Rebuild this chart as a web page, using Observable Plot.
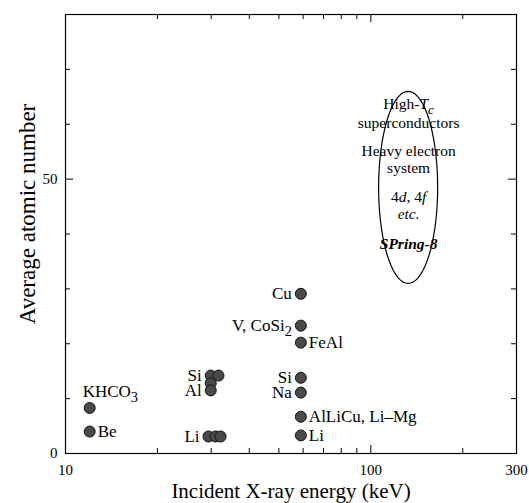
<!DOCTYPE html>
<html><head><meta charset="utf-8">
<script src="https://cdn.jsdelivr.net/npm/d3@7"></script>
<script src="https://cdn.jsdelivr.net/npm/@observablehq/plot@0.6"></script>
<style>body{margin:0;background:#fff}</style>
</head><body><div id="chart"></div>
<script>
// Measured samples: incident X-ray energy (keV) and average atomic number
const sampleEnergy = [12, 12, 29.9, 31.7, 29.9, 29.9, 29.4, 31.0, 32.2, 59, 59, 59, 59, 59, 59, 59];
const sampleZ      = [8.3, 4, 14.2, 14.2, 12.8, 11.5, 3.1, 3.1, 3.1, 29.1, 23.3, 20.2, 13.8, 11.1, 6.7, 3.3];

// Point labels
const labelText   = ["KHCO3", "Be", "Si", "Al", "Li", "Cu", "V, CoSi2", "FeAl", "Si", "Na", "AlLiCu, Li–Mg", "Li"];
const labelEnergy = [12, 12, 29.9, 29.9, 29.4, 59, 59, 59, 59, 59, 59, 59];
const labelZ      = [8.3, 4, 14.2, 11.5, 3.1, 29.1, 23.3, 20.2, 13.8, 11.1, 6.7, 3.3];
const labelSide   = ["above", "right", "left", "left", "left", "left", "left", "right", "left", "left", "right", "right"];

// SPring-8 target region (ellipse) and its text
const regionCenterEnergy = 132.5;
const regionHalfWidthDecades = 0.0967;
const regionZMin = 31, regionZMax = 66;
const regionLines = ["High-Tc", "superconductors", "Heavy electron", "system", "4d, 4f", "etc.", "SPring-8"];
const regionLineZ = [63.6, 60.2, 55.1, 52.0, 46.7, 43.6, 38.2];
const regionTextEnergy = 133;

// Axes ticks
const xLabelTicks = [10, 100, 300];
const xMinorTicks = [20, 30, 40, 50, 60, 70, 80, 90, 200];
const xMajorTicks = [100];
const yLabelTicks = [0, 50];
const yMinorTicks = [10, 20, 30, 40, 60, 70];
const yMajorTicks = [50];

const W = 529, H = 503;
const mL = 65, mR = 13, mT = 14, mB = 50;
const fw = W - mL - mR, fh = H - mT - mB;

const samples = sampleEnergy.map((e, i) => ({energy: e, z: sampleZ[i]}));
const labels = labelText.map((t, i) => ({text: t, energy: labelEnergy[i], z: labelZ[i], side: labelSide[i]}));
const regionText = regionLines.map((t, i) => ({text: t, z: regionLineZ[i]}));
const cz = (regionZMin + regionZMax) / 2, hz = (regionZMax - regionZMin) / 2;
const ellipse = d3.range(0, 73).map(i => {
  const t = i / 72 * 2 * Math.PI;
  return {energy: regionCenterEnergy * Math.pow(10, regionHalfWidthDecades * Math.cos(t)), z: cz + hz * Math.sin(t)};
});

const font = "'Liberation Serif', 'Times New Roman', serif";
const lab = side => labels.filter(d => d.side === side);

const chart = Plot.plot({
  width: W, height: H,
  marginLeft: mL, marginRight: mR, marginTop: mT, marginBottom: mB,
  style: {fontFamily: font, background: "white", color: "black"},
  x: {type: "log", domain: [10, 300]},
  y: {domain: [0, 80]},
  marks: [
    Plot.frame({stroke: "black", strokeWidth: 1.2}),
    // inward ticks
    Plot.tickX(xMinorTicks, {x: d => d, insetTop: fh - 5, stroke: "black"}),
    Plot.tickX(xMinorTicks, {x: d => d, insetBottom: fh - 5, stroke: "black"}),
    Plot.tickX(xMajorTicks, {x: d => d, insetTop: fh - 8, stroke: "black"}),
    Plot.tickX(xMajorTicks, {x: d => d, insetBottom: fh - 8, stroke: "black"}),
    Plot.tickY(yMinorTicks, {y: d => d, insetRight: fw - 5, stroke: "black"}),
    Plot.tickY(yMinorTicks, {y: d => d, insetLeft: fw - 5, stroke: "black"}),
    Plot.tickY(yMajorTicks, {y: d => d, insetRight: fw - 8, stroke: "black"}),
    Plot.tickY(yMajorTicks, {y: d => d, insetLeft: fw - 8, stroke: "black"}),
    Plot.axisX(xLabelTicks, {tickSize: 0, tickPadding: 11, fontSize: 15, label: null, tickFormat: d => String(d)}),
    Plot.axisY(yLabelTicks, {tickSize: 0, tickPadding: 8, fontSize: 15, label: null, tickFormat: d => String(d)}),
    Plot.text(["Incident X-ray energy (keV)"], {frameAnchor: "bottom", textAnchor: "middle", lineAnchor: "middle", dy: 38, dx: 0, fontSize: 21}),
    Plot.text(["Average atomic number"], {frameAnchor: "left", textAnchor: "middle", lineAnchor: "middle", dx: -38, dy: -20, rotate: -90, fontSize: 23}),
    // ellipse region
    Plot.line(ellipse, {x: "energy", y: "z", stroke: "black", strokeWidth: 1.2}),
    Plot.text(regionText, {x: () => regionTextEnergy, y: "z", text: "text", fontSize: 15.5}),
    // samples
    Plot.dot(samples, {x: "energy", y: "z", r: 5.5, fill: "#4a4a4a", stroke: "#111", strokeWidth: 1}),
    Plot.text(lab("left"), {x: "energy", y: "z", text: "text", textAnchor: "end", dx: -9, fontSize: 17}),
    Plot.text(lab("right"), {x: "energy", y: "z", text: "text", textAnchor: "start", dx: 8, fontSize: 17}),
    Plot.text(lab("above"), {x: "energy", y: "z", text: "text", textAnchor: "start", dx: -7, dy: -16, fontSize: 17})
  ]
});

// rich text: subscripts and italics
const rich = {
  "KHCO3": [["KHCO", ""], ["3", "sub"]],
  "V, CoSi2": [["V, CoSi", ""], ["2", "sub"]],
  "High-Tc": [["High-", ""], ["T", "italic"], ["c", "italic sub"]],
  "4d, 4f": [["4", ""], ["d", "italic"], [", 4", ""], ["f", "italic"]],
  "etc.": [["etc.", "italic"]],
  "SPring-8": [["SPring-8", "bold italic"]]
};
d3.select(chart).selectAll("text").each(function() {
  const parts = rich[this.textContent];
  if (!parts) return;
  const el = d3.select(this);
  el.text(null);
  for (const [s, st] of parts) {
    const flags = st.split(" ");
    const ts = el.append("tspan").text(s);
    if (flags.includes("italic")) ts.attr("font-style", "italic");
    if (flags.includes("bold")) ts.attr("font-weight", "bold");
    if (flags.includes("sub")) ts.attr("dy", "0.35em").attr("font-size", "0.85em");
  }
});

document.getElementById("chart").append(chart);
</script>
</body></html>
